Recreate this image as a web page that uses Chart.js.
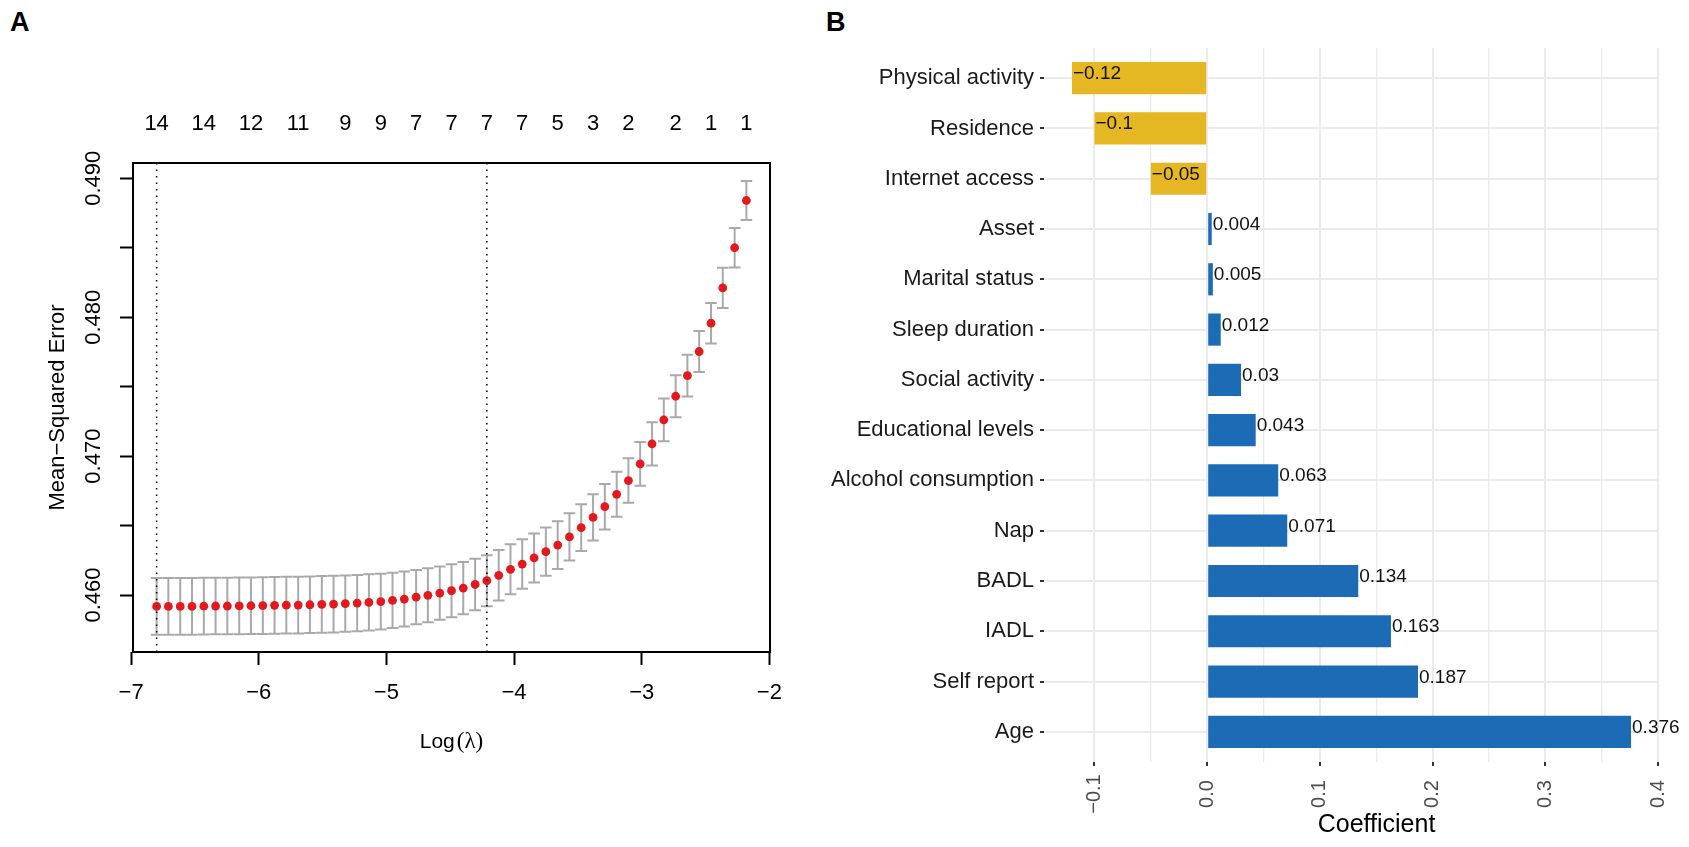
<!DOCTYPE html>
<html><head><meta charset="utf-8">
<script src="https://cdn.jsdelivr.net/npm/chart.js@4.4.1/dist/chart.umd.min.js"></script>
<style>
html,body{margin:0;padding:0;background:#fff;width:1689px;height:847px;overflow:hidden;}
#a{position:absolute;left:0;top:0;}
#b{position:absolute;left:780px;top:0;}
.lab{position:absolute;font:bold 27px 'Liberation Sans',Arial,sans-serif;line-height:27px;color:#000;}
</style></head><body>
<div class="lab" style="left:10px;top:9px">A</div>
<div class="lab" style="left:826px;top:9px">B</div>
<canvas id="a" width="800" height="847"></canvas>
<canvas id="b" width="909" height="847"></canvas>
<script>
// ---------- Panel A data ----------
const logLambda = [-6.800,-6.708,-6.615,-6.523,-6.430,-6.338,-6.246,-6.153,-6.061,-5.968,
  -5.876,-5.784,-5.691,-5.599,-5.506,-5.414,-5.322,-5.229,-5.137,-5.044,
  -4.952,-4.860,-4.767,-4.675,-4.582,-4.490,-4.398,-4.305,-4.213,-4.120,
  -4.028,-3.936,-3.843,-3.751,-3.658,-3.566,-3.474,-3.381,-3.289,-3.196,
  -3.104,-3.012,-2.919,-2.827,-2.734,-2.642,-2.550,-2.457,-2.365,-2.272,-2.180];
const cvMean = [0.45918,0.45918,0.45918,0.45918,0.45920,0.45921,0.45921,0.45922,0.45923,0.45924,
  0.45926,0.45927,0.45928,0.45930,0.45933,0.45935,0.45938,0.45942,0.45947,0.45953,
  0.45961,0.45971,0.45985,0.45998,0.46014,0.46031,0.46050,0.46076,0.46103,0.46142,
  0.46185,0.46223,0.46267,0.46312,0.46360,0.46418,0.46485,0.46559,0.46636,0.46725,
  0.46824,0.46944,0.47088,0.47261,0.47431,0.47580,0.47753,0.47957,0.48211,0.48500,0.48840];
const cvSE = [0.00204,0.00204,0.00204,0.00204,0.00204,0.00204,0.00204,0.00204,0.00204,0.00204,
  0.00204,0.00204,0.00204,0.00204,0.00204,0.00204,0.00203,0.00203,0.00202,0.00201,
  0.00199,0.00198,0.00196,0.00194,0.00192,0.00190,0.00188,0.00186,0.00184,0.00182,
  0.00180,0.00178,0.00176,0.00174,0.00172,0.00170,0.00168,0.00166,0.00164,0.00162,
  0.00160,0.00158,0.00156,0.00154,0.00152,0.00150,0.00148,0.00146,0.00145,0.00143,0.00140];
const lambdaMin = -6.800;
const lambda1se = -4.213;
const nzPos = [-6.800,-6.430,-6.061,-5.691,-5.322,-5.044,-4.767,-4.490,-4.213,-3.936,-3.658,-3.381,-3.104,-2.734,-2.457,-2.180];
const nzLabels = ['14','14','12','11','9','9','7','7','7','7','5','3','2','2','1','1'];
const xTicksA = [-7,-6,-5,-4,-3,-2];
const yTicksA = [0.460,0.465,0.470,0.475,0.480,0.485,0.490];
const yLabelsA = [0.460,0.470,0.480,0.490];

// ---------- Panel B data ----------
const categories = ['Physical activity','Residence','Internet access','Asset','Marital status','Sleep duration',
  'Social activity','Educational levels','Alcohol consumption','Nap','BADL','IADL','Self report','Age'];
const coefficients = [-0.12,-0.1,-0.05,0.004,0.005,0.012,0.03,0.043,0.063,0.071,0.134,0.163,0.187,0.376];
const xTicksB = [-0.1,0,0.1,0.2,0.3,0.4];
const xMinorB = [-0.05,0.05,0.15,0.25,0.35];

const FONT = "'Liberation Sans', Arial, sans-serif";
Chart.defaults.font.family = FONT;
Chart.defaults.color = '#000';
const minus = s => s.replace('-', '\u2212');

// ---------- Panel A ----------
const plugA = {
  id: 'plugA',
  beforeDatasetsDraw(chart) {
    const {ctx, scales: {x, y}} = chart;
    ctx.save();
    ctx.strokeStyle = '#a9a9a9';
    ctx.lineWidth = 2;
    for (let i = 0; i < logLambda.length; i++) {
      const px = x.getPixelForValue(logLambda[i]);
      const yt = y.getPixelForValue(cvMean[i] + cvSE[i]);
      const yb = y.getPixelForValue(cvMean[i] - cvSE[i]);
      ctx.beginPath();
      ctx.moveTo(px, yt); ctx.lineTo(px, yb);
      ctx.moveTo(px - 5.8, yt); ctx.lineTo(px + 5.8, yt);
      ctx.moveTo(px - 5.8, yb); ctx.lineTo(px + 5.8, yb);
      ctx.stroke();
    }
    ctx.restore();
  },
  afterDatasetsDraw(chart) {
    const {ctx, chartArea: ca, scales: {x, y}} = chart;
    ctx.save();
    ctx.strokeStyle = '#000';
    ctx.lineWidth = 1.5;
    ctx.setLineDash([1.5, 5]);
    [lambdaMin, lambda1se].forEach(v => {
      const px = x.getPixelForValue(v);
      ctx.beginPath(); ctx.moveTo(px, ca.top); ctx.lineTo(px, ca.bottom); ctx.stroke();
    });
    ctx.setLineDash([]);
    ctx.lineWidth = 2;
    ctx.strokeRect(ca.left, ca.top, ca.right - ca.left, ca.bottom - ca.top);
    ctx.fillStyle = '#000';
    ctx.font = '22px ' + FONT;
    ctx.textAlign = 'center';
    ctx.textBaseline = 'middle';
    yLabelsA.forEach(v => {
      ctx.save();
      ctx.translate(ca.left - 39, y.getPixelForValue(v));
      ctx.rotate(-Math.PI / 2);
      ctx.fillText(v.toFixed(3), 0, 0);
      ctx.restore();
    });
    const cx = (ca.left + ca.right) / 2, cy = ca.bottom + 90;
    ctx.font = '21px ' + FONT;
    const w1 = ctx.measureText('Log').width;
    ctx.font = "23px 'Liberation Serif', 'DejaVu Serif', serif";
    const w2 = ctx.measureText('(\u03bb)').width;
    const start = cx - (w1 + w2 + 2) / 2;
    ctx.textAlign = 'left';
    ctx.font = '21px ' + FONT;
    ctx.fillText('Log', start, cy);
    ctx.font = "23px 'Liberation Serif', 'DejaVu Serif', serif";
    ctx.fillText('(\u03bb)', start + w1 + 2, cy);
    ctx.restore();
  }
};

new Chart(document.getElementById('a'), {
  type: 'scatter',
  data: {
    datasets: [{
      data: logLambda.map((v, i) => ({x: v, y: cvMean[i]})),
      backgroundColor: '#e3191e',
      borderWidth: 0,
      pointRadius: 4.4,
      pointHoverRadius: 4.4
    }]
  },
  options: {
    responsive: false,
    animation: false,
    devicePixelRatio: 1,
    layout: {padding: {left: 0, top: 0, right: 30, bottom: 0}},
    plugins: {legend: {display: false}, tooltip: {enabled: false}},
    scales: {
      x: {
        type: 'linear', position: 'bottom', min: -6.985, max: -1.995,
        afterBuildTicks: s => { s.ticks = xTicksA.map(v => ({value: v})); },
        afterFit: s => { s.height = 195; },
        border: {display: false},
        grid: {drawOnChartArea: false, drawTicks: true, tickLength: 13, tickWidth: 2, tickColor: '#000'},
        ticks: {font: {size: 22}, color: '#000', padding: 15, maxRotation: 0, minRotation: 0, autoSkip: false,
          callback: v => minus(String(v))}
      },
      x2: {
        type: 'linear', position: 'top', min: -6.985, max: -1.995,
        afterBuildTicks: s => { s.ticks = nzPos.map(v => ({value: v})); },
        afterFit: s => { s.height = 163; },
        border: {display: false},
        grid: {display: false, drawTicks: false, drawOnChartArea: false},
        ticks: {font: {size: 22}, color: '#000', padding: 26, maxRotation: 0, minRotation: 0, autoSkip: false,
          callback: (v, i) => nzLabels[i]}
      },
      y: {
        type: 'linear', position: 'left', min: 0.4559, max: 0.4911,
        afterBuildTicks: s => { s.ticks = yTicksA.map(v => ({value: v})); },
        afterFit: s => { s.width = 133; },
        border: {display: false},
        grid: {drawOnChartArea: false, drawTicks: true, tickLength: 13, tickWidth: 2, tickColor: '#000'},
        ticks: {display: false},
        title: {display: true, text: 'Mean\u2212Squared Error', font: {size: 22}, color: '#000', padding: {top: 45, bottom: 0}}
      }
    }
  },
  plugins: [plugA]
});

// ---------- Panel B ----------
const GOLD = '#e5b722', BLUE = '#1c6bb5';
const isMajor = v => xTicksB.some(t => Math.abs(t - v) < 1e-9);
const plugB = {
  id: 'plugB',
  afterDatasetsDraw(chart) {
    const {ctx, chartArea: ca, scales: {x, y}} = chart;
    ctx.save();
    ctx.fillStyle = '#111';
    ctx.font = '19px ' + FONT;
    ctx.textAlign = 'left';
    ctx.textBaseline = 'alphabetic';
    coefficients.forEach((v, i) => {
      ctx.fillText(minus(String(v)), x.getPixelForValue(v) + 1, y.getPixelForValue(i) + 1);
    });
    ctx.fillStyle = '#4d4d4d';
    ctx.font = '20px ' + FONT;
    ctx.textAlign = 'center';
    ctx.textBaseline = 'middle';
    xTicksB.forEach(v => {
      ctx.save();
      ctx.translate(x.getPixelForValue(v), ca.bottom + 32);
      ctx.rotate(-Math.PI / 2);
      ctx.fillText(minus(v.toFixed(1)), 0, 0);
      ctx.restore();
    });
    ctx.fillStyle = '#000';
    ctx.font = '25px ' + FONT;
    ctx.fillText('Coefficient', (ca.left + ca.right) / 2 + 25, ca.bottom + 63);
    ctx.restore();
  }
};

new Chart(document.getElementById('b'), {
  type: 'bar',
  data: {
    datasets: [{
      data: coefficients.map((v, i) => ({x: v, y: i})),
      backgroundColor: coefficients.map(v => v < 0 ? GOLD : BLUE),
      borderWidth: 0,
      categoryPercentage: 1,
      barPercentage: 0.64
    }]
  },
  options: {
    indexAxis: 'y',
    responsive: false,
    animation: false,
    devicePixelRatio: 1,
    layout: {padding: {left: 0, top: 48, right: 30, bottom: 0}},
    plugins: {legend: {display: false}, tooltip: {enabled: false}},
    scales: {
      x: {
        type: 'linear', position: 'bottom', min: -0.1448, max: 0.4008,
        afterBuildTicks: s => { s.ticks = xTicksB.concat(xMinorB).sort((a, b) => a - b).map(v => ({value: v})); },
        afterFit: s => { s.height = 85; },
        border: {display: false},
        grid: {
          color: '#ebebeb',
          lineWidth: c => isMajor(c.tick.value) ? 2 : 1.3,
          drawTicks: true, tickLength: 4, tickWidth: 2,
          tickColor: c => isMajor(c.tick.value) ? '#333' : 'rgba(0,0,0,0)'
        },
        ticks: {display: false}
      },
      y: {
        type: 'linear', position: 'left', min: -0.6, max: 13.6, reverse: true,
        offset: false,
        afterBuildTicks: s => { s.ticks = categories.map((c, i) => ({value: i})); },
        afterFit: s => { s.width = 264; },
        border: {display: false},
        grid: {offset: false, color: '#ebebeb', lineWidth: 2, drawTicks: true, tickLength: 4, tickWidth: 2, tickColor: '#333'},
        ticks: {font: {size: 22}, color: '#1a1a1a', padding: 6, autoSkip: false,
          callback: v => categories[v]}
      }
    }
  },
  plugins: [plugB]
});
</script>
</body></html>
